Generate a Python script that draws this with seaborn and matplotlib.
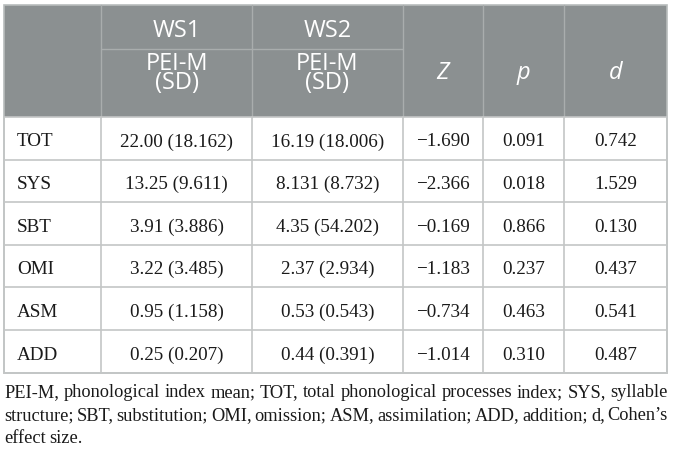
import matplotlib
matplotlib.use("Agg")
import matplotlib.pyplot as plt
import seaborn as sns
from matplotlib.patches import Rectangle

# table content
row_labels = ["TOT", "SYS", "SBT", "OMI", "ASM", "ADD"]
ws1_cells = ["22.00 (18.162)", "13.25 (9.611)", "3.91 (3.886)",
             "3.22 (3.485)", "0.95 (1.158)", "0.25 (0.207)"]
ws2_cells = ["16.19 (18.006)", "8.131 (8.732)", "4.35 (54.202)",
             "2.37 (2.934)", "0.53 (0.543)", "0.44 (0.391)"]
z_vals = [-1.690, -2.366, -0.169, -1.183, -0.734, -1.014]
p_vals = [0.091, 0.018, 0.866, 0.237, 0.463, 0.310]
d_vals = [0.742, 1.529, 0.130, 0.437, 0.541, 0.487]
group_labels = ["WS1", "WS2"]
sub_label = "PEI-M\n(SD)"
stat_labels = ["Z", "p", "d"]
caption_lines = [
    "PEI-M, phonological index mean; TOT, total phonological processes index; SYS, syllable",
    "structure; SBT, substitution; OMI, omission; ASM, assimilation; ADD, addition; d, Cohen\u2019s",
    "effect size.",
]

W, H = 673, 453
sns.set_theme(style="white")
plt.rcParams["font.family"] = ["Liberation Serif", "DejaVu Serif"]

fig = plt.figure(figsize=(W / 100, H / 100), dpi=100)
ax = fig.add_axes([0, 0, 1, 1])
ax.set_xlim(0, W)
ax.set_ylim(H, 0)
ax.axis("off")

# layout (pixels)
col_x = [4, 101, 252, 403, 483, 564, 667]
top, mid, head_bot = 5, 49, 117
row_h = 42.6
bottom = head_bot + row_h * len(row_labels)

header_col = "#8b9091"
line_col = "#c4c6c6"
head_line = "#a9adad"

ax.add_patch(Rectangle((col_x[0], top), col_x[-1] - col_x[0], head_bot - top,
                       facecolor=header_col, edgecolor="none"))
# header inner lines
for x in col_x[1:-1]:
    ax.plot([x, x], [top, head_bot], color=head_line, lw=1)
ax.plot([col_x[1], col_x[3]], [mid, mid], color=head_line, lw=1)
# body grid
for i in range(len(row_labels) + 1):
    y = head_bot + i * row_h
    ax.plot([col_x[0], col_x[-1]], [y, y], color=line_col, lw=1.2)
for x in col_x:
    ax.plot([x, x], [head_bot, bottom], color=line_col, lw=1.2)
# outer border
ax.add_patch(Rectangle((col_x[0], top), col_x[-1] - col_x[0], bottom - top,
                       facecolor="none", edgecolor="#b8bcbc", lw=1.2))

hfont = dict(family=["Open Sans", "DejaVu Sans"], color="white", fontsize=17)
for j, g in enumerate(group_labels):
    cx = (col_x[1 + j] + col_x[2 + j]) / 2
    ax.text(cx, 37, g, ha="center", va="baseline", **hfont)
    # baseline of a two-line text sits on its last line
    ax.text(cx, 89, sub_label, ha="center", va="baseline", linespacing=0.72, **hfont)
for j, s in enumerate(stat_labels):
    cx = (col_x[3 + j] + col_x[4 + j]) / 2
    ax.text(cx, 79, s, ha="center", va="baseline", style="italic", **hfont)

bfont = dict(fontsize=13.8, color="#1a1a1a")
for i, lab in enumerate(row_labels):
    base = head_bot + i * row_h + 29.5
    ax.text(17, base, lab, ha="left", va="baseline", **bfont)
    cells = [ws1_cells[i], ws2_cells[i],
             f"{z_vals[i]:.3f}".replace("-", "\u2212"),
             f"{p_vals[i]:.3f}", f"{d_vals[i]:.3f}"]
    for j, c in enumerate(cells):
        cx = (col_x[1 + j] + col_x[2 + j]) / 2
        ax.text(cx, base, c, ha="center", va="baseline", **bfont)

# justified caption
cfont = dict(fontsize=13.2, color="#1a1a1a")
fig.canvas.draw()
renderer = fig.canvas.get_renderer()
inv = ax.transData.inverted()
cap_base = [397, 420, 443]
left, right = 4, 668
for k, line in enumerate(caption_lines):
    words = line.split(" ")
    texts = [ax.text(0, cap_base[k], w, ha="left", va="baseline", **cfont) for w in words]
    widths = []
    for t in texts:
        bb = t.get_window_extent(renderer)
        x0 = inv.transform((bb.x0, 0))[0]
        x1 = inv.transform((bb.x1, 0))[0]
        widths.append(x1 - x0)
    if k < len(caption_lines) - 1:
        gap = (right - left - sum(widths)) / (len(words) - 1)
    else:
        gap = 4.0
    x = left
    for t, w in zip(texts, widths):
        t.set_x(x)
        x += w + gap

fig.savefig("out.png", dpi=100)
